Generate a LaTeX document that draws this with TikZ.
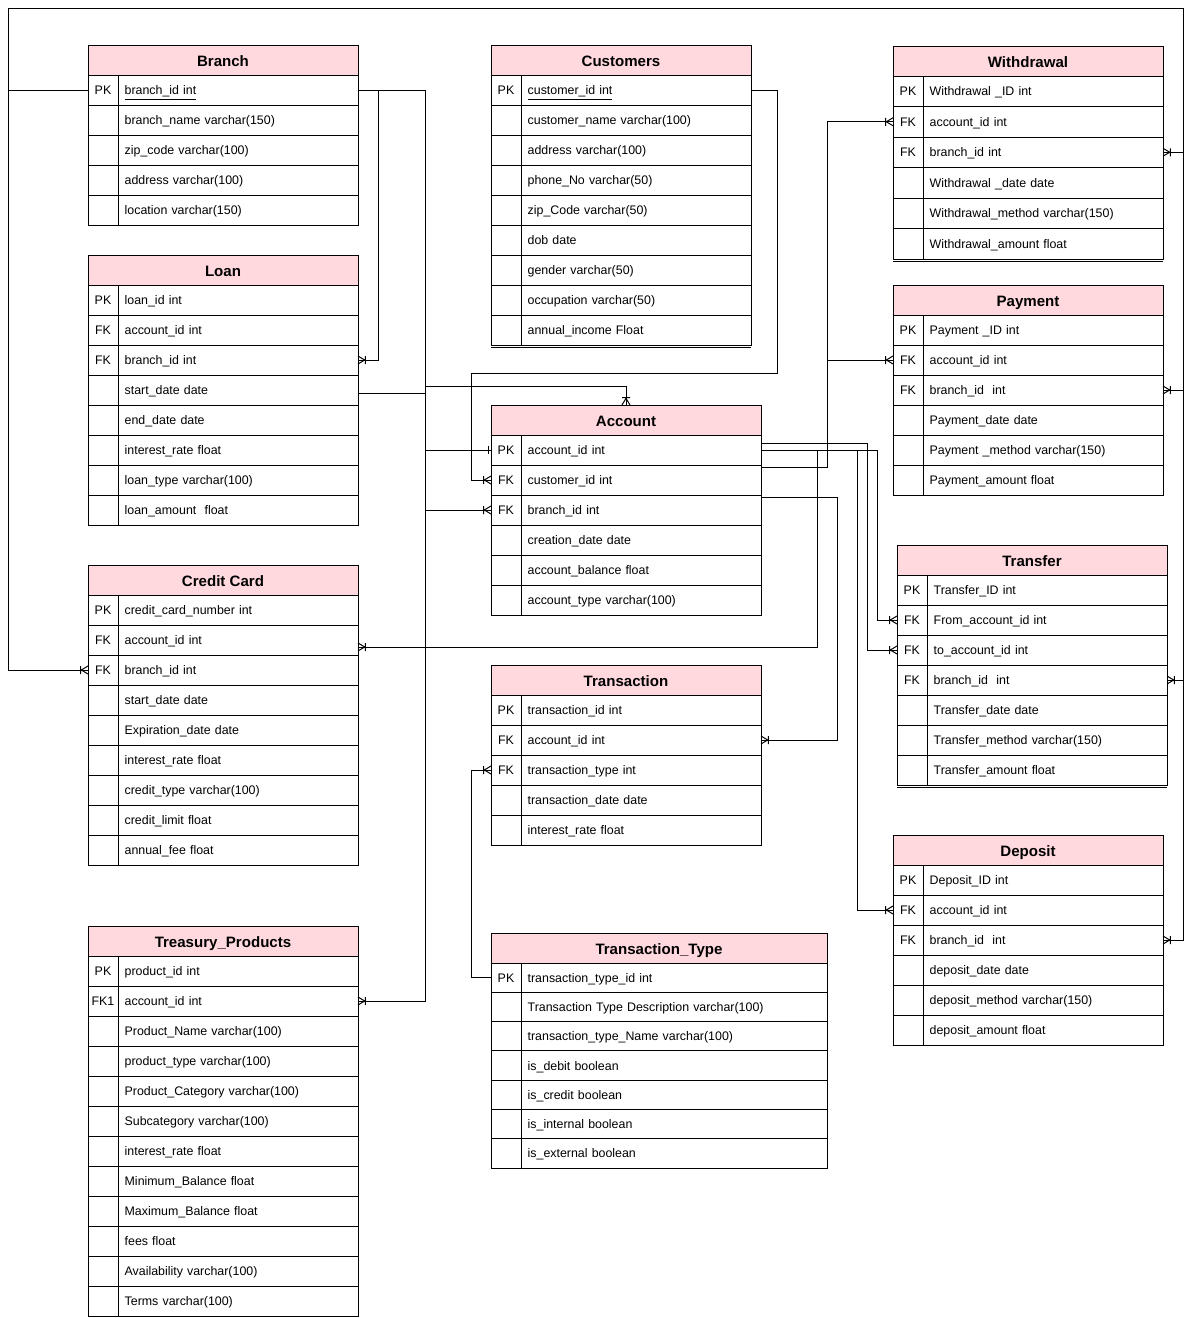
\documentclass[tikz,border=0pt]{standalone}
\usepackage{fontspec}
\setmainfont{Liberation Sans}
\usetikzlibrary{calc}

\definecolor{titlepink}{RGB}{255,217,222}

\pgfdeclarearrow{
  name = Crow,
  setup code = {
    \pgfarrowssettipend{0pt}
    \pgfarrowssetlineend{0pt}
    \pgfarrowssetbackend{-6pt}
    \pgfarrowssetvisualbackend{-6pt}
    \pgfarrowsupperhullpoint{0pt}{3pt}
    \pgfarrowsupperhullpoint{-6pt}{3pt}
  },
  drawing code = {
    \pgfpathmoveto{\pgfqpoint{0pt}{3pt}}
    \pgfpathlineto{\pgfqpoint{-5pt}{0pt}}
    \pgfpathlineto{\pgfqpoint{0pt}{-3pt}}
    \pgfpathmoveto{\pgfqpoint{-5.5pt}{3pt}}
    \pgfpathlineto{\pgfqpoint{-5.5pt}{-3pt}}
    \pgfusepathqstroke
  }
}
\pgfdeclarearrow{
  name = One,
  setup code = {
    \pgfarrowssettipend{0pt}
    \pgfarrowssetlineend{0pt}
    \pgfarrowssetbackend{-3pt}
    \pgfarrowsupperhullpoint{0pt}{3pt}
  },
  drawing code = {
    \pgfpathmoveto{\pgfqpoint{-2.25pt}{3pt}}
    \pgfpathlineto{\pgfqpoint{-2.25pt}{-3pt}}
    \pgfusepathqstroke
  }
}

\tikzset{
  tbltitle/.style={draw, fill=titlepink, font=\fontsize{11.3}{13}\selectfont\bfseries, minimum height=22.5pt, inner sep=0pt, outer sep=0pt, text height=10.5pt, text depth=0.5pt, anchor=north west},
  tblrow/.style={draw, font=\fontsize{9.3}{11}\selectfont, inner xsep=5pt, inner ysep=0pt, outer sep=0pt, text height=8.2pt, text depth=1.5pt, align=left, anchor=north west},
  tblkey/.style={draw, font=\fontsize{9.3}{11}\selectfont, minimum width=22.5pt, inner sep=0pt, outer sep=0pt, text height=8.2pt, text depth=1.5pt, anchor=north east},
  tomany/.style={-Crow},
  toone/.style={-One}
}

\newcommand{\ertable}[6][30]{%
  \pgfmathsetmacro\tblw{#5*0.75}%
  \pgfmathsetmacro\tblrw{(#5-30)*0.75-10}%
  \pgfmathsetmacro\tblrh{#1*0.75}%
  \node[tbltitle, minimum width=\tblw pt] (#2) at (#3) {#4};
  \foreach \ky/\tx [count=\i] in {#6}{%
    \pgfmathsetmacro\tbldy{-(\i-1)*\tblrh}%
    \node[tblrow, text width=\tblrw pt, minimum height=\tblrh pt] (#2-\i) at ([xshift=22.5pt, yshift=\tbldy pt]#2.south west) {\tx};
    \node[tblkey, minimum height=\tblrh pt] (#2-k\i) at (#2-\i.north west) {\ky};
  }%
}

\begin{document}
\begin{tikzpicture}[x=0.75pt, y=-0.75pt, line width=0.75pt]
\useasboundingbox (0,0) rectangle (1192,1318);

\ertable{branch}{88,45}{Branch}{270}{PK/\underline{branch\_id int}, /branch\_name varchar(150), /zip\_code varchar(100), /address varchar(100), /location varchar(150)}
\ertable{loan}{88,255}{Loan}{270}{PK/loan\_id int, FK/account\_id int, FK/branch\_id int, /start\_date date, /end\_date date, /interest\_rate float, /loan\_type varchar(100), /loan\_amount~ float}
\ertable{card}{88,565}{Credit Card}{270}{PK/credit\_card\_number int, FK/account\_id int, FK/branch\_id int, /start\_date date, /Expiration\_date date, /interest\_rate float, /credit\_type varchar(100), /credit\_limit float, /annual\_fee float}
\ertable{treas}{88,926}{Treasury\_Products}{270}{PK/product\_id int, FK1/account\_id int, /Product\_Name varchar(100), /product\_type varchar(100), /Product\_Category varchar(100), /Subcategory varchar(100), /interest\_rate float, /Minimum\_Balance float, /Maximum\_Balance float, /fees float, /Availability varchar(100), /Terms varchar(100)}
\ertable{cust}{491,45}{Customers}{260}{PK/\underline{customer\_id int}, /customer\_name varchar(100), /address varchar(100), /phone\_No varchar(50), /zip\_Code varchar(50), /dob date, /gender varchar(50), /occupation varchar(50), /annual\_income Float}
\ertable{acct}{491,405}{Account}{270}{PK/account\_id int, FK/customer\_id int, FK/branch\_id int, /creation\_date date, /account\_balance float, /account\_type varchar(100)}
\ertable{trans}{491,665}{Transaction}{270}{PK/transaction\_id int, FK/account\_id int, FK/transaction\_type int, /transaction\_date date, /interest\_rate float}
\ertable[29.3]{ttype}{491,933}{Transaction\_Type}{336}{PK/transaction\_type\_id int, /Transaction Type Description varchar(100), /transaction\_type\_Name varchar(100), /is\_debit boolean, /is\_credit boolean, /is\_internal boolean, /is\_external boolean}
\ertable[30.5]{wdraw}{893,46}{Withdrawal}{270}{PK/Withdrawal \_ID int, FK/account\_id int, FK/branch\_id int, /Withdrawal \_date date, /Withdrawal\_method varchar(150), /Withdrawal\_amount float}
\ertable{pay}{893,285}{Payment}{270}{PK/Payment \_ID int, FK/account\_id int, FK/branch\_id~ int, /Payment\_date date, /Payment \_method varchar(150), /Payment\_amount float}
\ertable{xfer}{897,545}{Transfer}{270}{PK/Transfer\_ID int, FK/From\_account\_id int, FK/to\_account\_id int, FK/branch\_id~ int, /Transfer\_date date, /Transfer\_method varchar(150), /Transfer\_amount float}
\ertable{dep}{893,835}{Deposit}{270}{PK/Deposit\_ID int, FK/account\_id int, FK/branch\_id~ int, /deposit\_date date, /deposit\_method varchar(150), /deposit\_amount float}

\draw ([yshift=-1.5pt]cust-k9.south west) -- ([yshift=-1.5pt]cust-9.south east);
\draw ([yshift=-1.5pt]wdraw-k6.south west) -- ([yshift=-1.5pt]wdraw-6.south east);
\draw ([yshift=-1.5pt]xfer-k7.south west) -- ([yshift=-1.5pt]xfer-7.south east);

\coordinate (lbus) at (8,8);
\coordinate (rbus) at (1183,8);

\draw (branch-k1.west) -| (lbus) -- (rbus);
\draw [tomany] (branch-k1.west) -- ++(-80,0) |- (card-k3.west);
\draw [tomany] (rbus) |- (wdraw-3.east);
\draw [tomany] (rbus) |- (pay-3.east);
\draw [tomany] (rbus) |- (xfer-4.east);
\draw [tomany] (rbus) |- (dep-3.east);

\draw [tomany] (branch-1.east) -- ++(20,0) |- (loan-3.east);
\draw [tomany] (branch-1.east) -- ++(67,0) |- (treas-2.east);
\draw [tomany] (branch-1.east) -- ++(67,0) |- (acct-k3.west);
\draw [toone] (branch-1.east) -- ++(67,0) |- (acct-k1.west);
\draw [tomany] ([yshift=-2.25pt]loan-4.east) -- ++(67,0) -- ++(0,-7) -| (acct.north);

\draw [tomany] (cust-1.east) -- ++(26,0) -- ++(0,283) -- ++(-306,0) |- (acct-k2.west);

\draw [tomany] ([yshift=5.25pt]acct-1.east) -- ++(106,0) |- (xfer-k3.west);
\draw [tomany] (acct-1.east) -- ++(116,0) |- (xfer-k2.west);
\draw [tomany] (acct-1.east) -- ++(96,0) |- (dep-k2.west);
\draw [tomany] (acct-1.east) -- ++(56,0) |- ([yshift=-5.25pt]card-2.east);
\draw [tomany] ([yshift=9.75pt]acct-2.east) -- ++(66,0) |- (wdraw-k2.west);
\draw [tomany] ([yshift=9.75pt]acct-2.east) -- ++(66,0) |- (pay-k2.west);
\draw [tomany] ([yshift=9.75pt]acct-3.east) -- ++(76,0) |- (trans-2.east);

\draw [tomany] (ttype-k1.west) -- ++(-20,0) |- (trans-k3.west);
\end{tikzpicture}
\end{document}
